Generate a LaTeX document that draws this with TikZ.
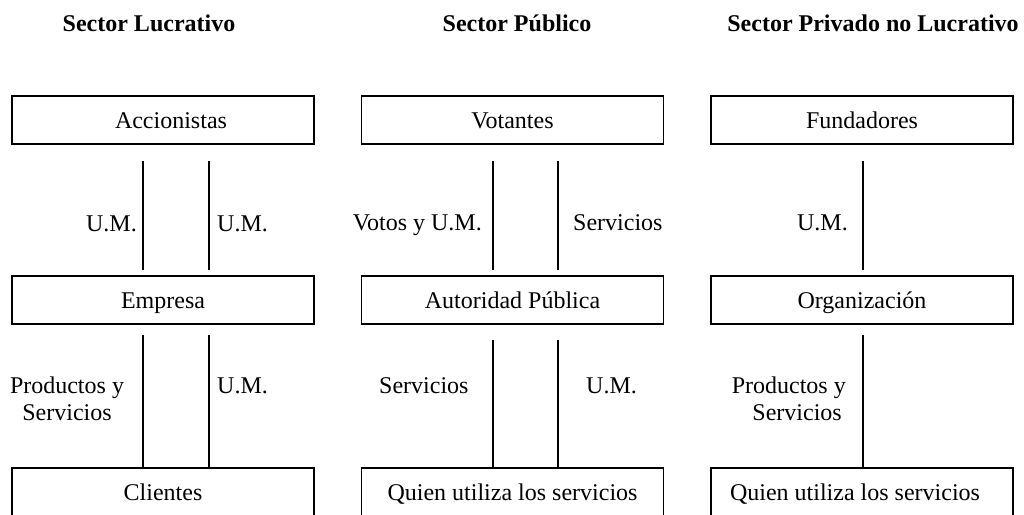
\documentclass[tikz,border=0pt]{standalone}
\usepackage{fontspec}
\setmainfont{Liberation Serif}
\begin{document}
\begin{tikzpicture}[x=1pt,y=-1pt,
  box/.style={draw,line width=1.6pt,minimum width=302pt,minimum height=48pt,
    inner sep=0pt,text height=16pt,text depth=0pt,font=\fontsize{24}{27}\selectfont},
  lbl/.style={inner sep=0pt,font=\fontsize{24}{27}\selectfont},
  sectitle/.style={inner sep=0pt,anchor=base,font=\fontsize{24}{27}\selectfont\bfseries},
  flow/.style={line width=1.6pt}]
\useasboundingbox (0,0) rectangle (1024,514);
\clip (0,0) rectangle (1024,514);

% column titles
\node[sectitle] (t1) at (149,31) {Sector Lucrativo};
\node[sectitle] (t2) at (517,31) {Sector Público};
\node[sectitle] (t3) at (873,31) {Sector Privado no Lucrativo};

% boxes
\node[box] (acc) at (163,120) {\hspace*{16pt}Accionistas};
\node[box] (emp) at (163,300) {Empresa};
\node[box] (cli) at (163,492) {Clientes};

\node[box] (vot) at (512.5,120) {Votantes};
\node[box] (aut) at (512.5,300) {Autoridad Pública};
\node[box] (qu2) at (512.5,492) {Quien utiliza los servicios};

\node[box] (fun) at (862,120) {Fundadores};
\node[box] (org) at (862,300) {Organización};
\node[box] (qu3) at (862,492) {Quien utiliza los servicios\hspace*{14pt}};

% flow line end points
\coordinate (a1) at (143,161); \coordinate (a2) at (143,270);
\coordinate (b1) at (209,161); \coordinate (b2) at (209,270);
\coordinate (c1) at (143,335);
\coordinate (d1) at (209,335);

\coordinate (e1) at (493,161); \coordinate (e2) at (493,270);
\coordinate (f1) at (558,161); \coordinate (f2) at (558,270);
\coordinate (g1) at (493,340);
\coordinate (h1) at (558,340);

\coordinate (k1) at (863,161); \coordinate (k2) at (863,270);
\coordinate (m1) at (863,335);

% flows
\draw[flow] (a1) -- (a2);
\draw[flow] (b1) -- (b2);
\draw[flow] (c1) -- (c1 |- cli.north);
\draw[flow] (d1) -- (d1 |- cli.north);

\draw[flow] (e1) -- (e2);
\draw[flow] (f1) -- (f2);
\draw[flow] (g1) -- (g1 |- qu2.north);
\draw[flow] (h1) -- (h1 |- qu2.north);

\draw[flow] (k1) -- (k2);
\draw[flow] (m1) -- (m1 |- qu3.north);

% flow labels (two-line labels sit on the baseline of their last line)
\node[lbl,anchor=base east] (la) at (137,231) {U.M.};
\node[lbl,anchor=base west] (lb) at (217,231) {U.M.};
\node[lbl,anchor=base,align=center] (lc) at (67,420) {Productos y\\Servicios};
\node[lbl,anchor=base west] (ld) at (217,393) {U.M.};

\node[lbl,anchor=base east] (le) at (482,230) {Votos y U.M.};
\node[lbl,anchor=base west] (lf) at (573,230) {Servicios};
\node[lbl,anchor=base west] (lg) at (379,393) {Servicios};
\node[lbl,anchor=base west] (lh) at (586,393) {U.M.};

\node[lbl,anchor=base east] (lk) at (848,230) {U.M.};
\node[lbl,anchor=base east,align=right] (lm) at (846,420) {Productos y\\Servicios\hspace*{4pt}};
\end{tikzpicture}
\end{document}
